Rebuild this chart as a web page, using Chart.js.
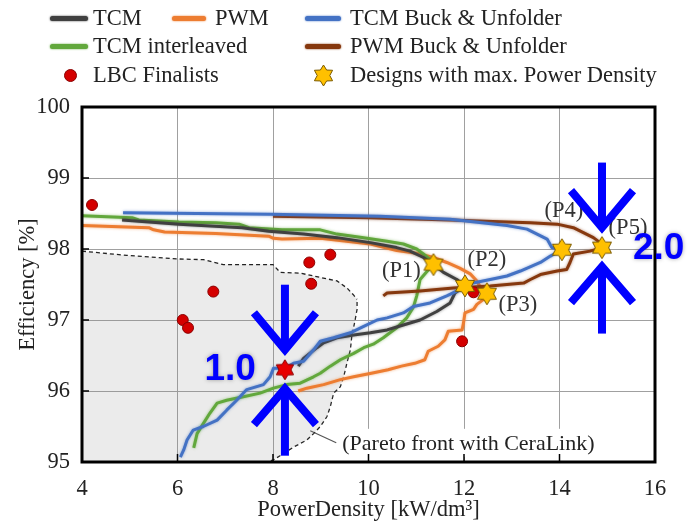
<!DOCTYPE html>
<html>
<head>
<meta charset="utf-8">
<script src="https://cdn.jsdelivr.net/npm/chart.js@4/dist/chart.umd.min.js"></script>
<style>
  html, body { margin: 0; padding: 0; background: #fff; }
  #wrap { position: relative; width: 699px; height: 524px; overflow: hidden; }
  #c { position: absolute; left: 0; top: 0; }
  #legend { position: absolute; left: 0; top: 0; width: 699px; height: 96px;
            font-family: "Liberation Serif", "Times New Roman", serif; font-size: 22.5px; color: #222; }
  .sw { position: absolute; height: 5px; border-radius: 3px; }
  .tx { position: absolute; line-height: 26px; white-space: nowrap; }
  .dot { position: absolute; width: 13px; height: 13px; border-radius: 50%; background: #d40000; border: 1px solid #8a0000; box-sizing: border-box; }
  .ic { position: absolute; }
</style>
</head>
<body>
<div id="wrap">
  <canvas id="c" width="699" height="524"></canvas>
  <div id="legend"></div>
</div>
<script>
// Axis ticks
const xTickValues = [4, 6, 8, 10, 12, 14, 16];
const yTickValues = [95, 96, 97, 98, 99, 100];

// Pareto fronts: [power density kW/dm³, efficiency %]
const tcm = [
  [4.84, 98.41], [6.03, 98.35], [7.35, 98.30], [7.91, 98.25], [8.64, 98.21], [9.34, 98.16],
  [10.04, 98.09], [10.59, 98.02], [10.87, 97.97], [11.15, 97.88], [11.36, 97.78], [11.57, 97.67],
  [11.85, 97.57], [12.02, 97.48], [11.81, 97.38], [11.71, 97.24], [11.43, 97.12], [11.08, 97.00],
  [10.73, 96.93], [10.39, 96.86], [10.04, 96.82], [9.69, 96.79], [9.34, 96.75], [9.06, 96.68],
  [8.92, 96.61], [8.64, 96.46], [8.53, 96.35]
];
const pwm = [
  [4.00, 98.33], [5.40, 98.30], [5.50, 98.27], [5.73, 98.24], [6.80, 98.22], [7.91, 98.18],
  [8.01, 98.15], [8.19, 98.14], [8.99, 98.15], [10.04, 98.07], [10.59, 97.98], [11.01, 97.94],
  [11.36, 97.88], [11.64, 97.81], [11.91, 97.73], [12.13, 97.65], [12.27, 97.55], [12.37, 97.43],
  [12.48, 97.37], [12.41, 97.29], [12.27, 97.22], [12.20, 97.15], [12.02, 97.10], [11.99, 96.96],
  [11.96, 96.86], [11.67, 96.84], [11.60, 96.72], [11.46, 96.63], [11.25, 96.56], [11.18, 96.44],
  [10.97, 96.39], [10.69, 96.35], [10.41, 96.30], [10.06, 96.25], [9.69, 96.20], [9.41, 96.16],
  [9.06, 96.09], [8.71, 96.04], [8.53, 96.00]
];
const tcmBuckUnfolder = [
  [4.86, 98.51], [7.94, 98.49], [10.24, 98.46], [11.71, 98.42], [12.90, 98.33], [13.32, 98.28],
  [13.53, 98.21], [13.74, 98.14], [13.84, 98.02], [14.05, 97.99], [13.81, 97.90], [13.60, 97.81],
  [13.18, 97.69], [12.90, 97.62], [12.55, 97.57], [12.19, 97.52], [12.02, 97.48], [11.92, 97.43],
  [11.64, 97.34], [11.29, 97.24], [10.94, 97.19], [10.73, 97.10], [10.39, 97.03], [10.18, 97.00],
  [9.90, 96.91], [9.62, 96.82], [9.27, 96.75], [8.99, 96.70], [8.85, 96.58], [8.64, 96.42],
  [8.43, 96.39], [8.25, 96.32], [8.01, 96.32], [7.94, 96.20], [7.80, 96.09], [7.45, 96.02],
  [7.24, 95.87], [7.03, 95.73], [6.83, 95.59], [6.54, 95.50], [6.33, 95.45], [6.20, 95.31],
  [6.13, 95.17], [6.06, 95.07]
];
const tcmInterleaved = [
  [4.00, 98.47], [5.05, 98.44], [5.19, 98.41], [6.03, 98.38], [6.80, 98.37], [7.29, 98.35],
  [7.50, 98.30], [8.19, 98.27], [8.99, 98.27], [9.34, 98.21], [9.90, 98.16], [10.39, 98.11],
  [10.73, 98.07], [11.01, 98.00], [11.15, 97.93], [11.29, 97.85], [11.36, 97.78], [11.26, 97.71],
  [11.08, 97.57], [11.01, 97.34], [10.94, 97.18], [10.80, 97.03], [10.59, 96.89], [10.31, 96.75],
  [10.10, 96.66], [9.90, 96.61], [9.69, 96.53], [9.41, 96.44], [9.20, 96.35], [8.99, 96.25],
  [8.85, 96.20], [8.57, 96.11], [8.29, 96.09], [8.01, 96.04], [7.73, 95.97], [7.38, 95.92],
  [7.03, 95.87], [6.83, 95.83], [6.68, 95.69], [6.54, 95.54], [6.41, 95.40], [6.34, 95.20]
];
const pwmBuckUnfolder = [
  [8.00, 98.46], [10.03, 98.44], [11.71, 98.41], [12.90, 98.38], [13.39, 98.37], [13.95, 98.35],
  [14.29, 98.30], [14.50, 98.23], [14.71, 98.16], [14.85, 98.09], [14.89, 98.02], [14.64, 97.97],
  [14.29, 97.93], [14.22, 97.81], [14.15, 97.71], [13.95, 97.69], [13.60, 97.64], [13.39, 97.57],
  [13.25, 97.52], [12.90, 97.50], [12.55, 97.48], [11.78, 97.45], [11.08, 97.41], [10.39, 97.38],
  [10.31, 97.34]
];

// Shaded design space with CeraLink capacitors (upper and lower edge)
const ceraLinkUpper = [
  [4.00, 97.97], [4.94, 97.91], [5.99, 97.86], [6.54, 97.85], [6.96, 97.78], [8.00, 97.78],
  [8.15, 97.67], [8.57, 97.66], [9.34, 97.55], [9.55, 97.45], [9.69, 97.35], [9.76, 97.29]
];
const ceraLinkLower = [
  [4.00, 95.00], [7.87, 95.00], [8.01, 95.03], [8.22, 95.12], [8.43, 95.21], [8.57, 95.26],
  [8.71, 95.31], [8.85, 95.40], [8.99, 95.50], [9.13, 95.64], [9.20, 95.78], [9.27, 95.97],
  [9.41, 96.06], [9.48, 96.20], [9.55, 96.40], [9.62, 96.58], [9.65, 96.77], [9.72, 97.00],
  [9.76, 97.15], [9.76, 97.29]
];

const lbcFinalists = [
  [4.21, 98.62], [6.11, 97.00], [6.22, 96.89], [6.75, 97.40], [8.76, 97.81],
  [8.80, 97.51], [9.20, 97.92], [11.96, 96.70], [12.20, 97.39]
];
const maxDensityDesigns = [[11.36, 97.78], [12.02, 97.48], [12.48, 97.37], [14.05, 97.99], [14.89, 98.02]];
const designLabels = ['(P1)', '(P2)', '(P3)', '(P4)', '(P5)'];
const referenceDesign = [[8.25, 96.30]];
const relativeDensity = ['1.0', '2.0'];

const toXY = arr => arr.map(([x, y]) => ({ x, y }));

function starPath(ctx, cx, cy, R, r) {
  ctx.beginPath();
  for (let i = 0; i < 12; i++) {
    const a = -Math.PI / 2 + i * Math.PI / 6;
    const rad = i % 2 === 0 ? R : r;
    const px = cx + rad * Math.cos(a), py = cy + rad * Math.sin(a);
    i === 0 ? ctx.moveTo(px, py) : ctx.lineTo(px, py);
  }
  ctx.closePath();
}
function starCanvas(R, fill, stroke) {
  const s = Math.ceil(R * 2 + 4);
  const cv = document.createElement('canvas');
  cv.width = s; cv.height = s;
  const g = cv.getContext('2d');
  starPath(g, s / 2, s / 2, R, R * 0.6);
  g.fillStyle = fill; g.fill();
  g.lineWidth = 1; g.strokeStyle = stroke; g.stroke();
  return cv;
}
const goldStar = starCanvas(11, '#ffc000', '#7a5a00');
const redStar = starCanvas(10, '#e80000', '#8a0000');

const serif = '"Liberation Serif", "Times New Roman", serif';
const COL = {
  tcm: '#404040', pwm: '#ed7d31', tcmBuck: '#4472c4', tcmInt: '#62a83c', pwmBuck: '#86380e'
};

function lineSet(label, pts, color, order) {
  return {
    label, data: toXY(pts), showLine: true, borderColor: color, borderWidth: 3,
    pointRadius: 0, fill: false, order, halo: color + '99', borderJoinStyle: 'round'
  };
}

const datasets = [
  { label: 'Designs with max. Power Density', data: toXY(maxDensityDesigns), pointStyle: goldStar, pointRadius: 11, order: 0 },
  { label: 'Reference design', data: toXY(referenceDesign), pointStyle: redStar, pointRadius: 10, order: 0 },
  { label: 'LBC Finalists', data: toXY(lbcFinalists), pointRadius: 5.5, pointBackgroundColor: '#d40000', pointBorderColor: '#8a0000', pointBorderWidth: 1, order: 1 },
  lineSet('TCM Buck & Unfolder', tcmBuckUnfolder, COL.tcmBuck, 2),
  lineSet('PWM Buck & Unfolder', pwmBuckUnfolder, COL.pwmBuck, 3),
  lineSet('TCM', tcm, COL.tcm, 4),
  lineSet('TCM interleaved', tcmInterleaved, COL.tcmInt, 5),
  lineSet('PWM', pwm, COL.pwm, 6),
  { label: 'CeraLink upper', data: toXY(ceraLinkUpper), showLine: true, pointRadius: 0,
    borderColor: '#222', borderWidth: 1.3, borderDash: [4, 3],
    backgroundColor: 'rgba(128,128,128,0.16)', fill: { target: 9 }, order: 20 },
  { label: 'CeraLink lower', data: toXY(ceraLinkLower), showLine: true, pointRadius: 0,
    borderColor: '#222', borderWidth: 1.3, borderDash: [4, 3], fill: false, order: 21 }
];

// soft halo around the front curves
const haloPlugin = {
  id: 'halo',
  beforeDatasetDraw(chart, args) {
    const ds = chart.data.datasets[args.index];
    chart.ctx.save();
    if (ds.halo) { chart.ctx.shadowColor = ds.halo; chart.ctx.shadowBlur = 3; }
  },
  afterDatasetDraw(chart) { chart.ctx.restore(); }
};

function arrowPair(ctx, cx, cy) {
  ctx.strokeStyle = '#0000ff';
  ctx.lineWidth = 8;
  ctx.lineCap = 'butt';
  ctx.lineJoin = 'miter';
  // pointing down from above
  ctx.beginPath(); ctx.moveTo(cx, cy - 85); ctx.lineTo(cx, cy - 20); ctx.stroke();
  ctx.beginPath(); ctx.moveTo(cx - 31, cy - 57); ctx.lineTo(cx, cy - 20); ctx.lineTo(cx + 31, cy - 57); ctx.stroke();
  // pointing up from below
  ctx.beginPath(); ctx.moveTo(cx, cy + 86); ctx.lineTo(cx, cy + 19); ctx.stroke();
  ctx.beginPath(); ctx.moveTo(cx - 31, cy + 55); ctx.lineTo(cx, cy + 19); ctx.lineTo(cx + 31, cy + 55); ctx.stroke();
}

const annotations = {
  id: 'annotations',
  beforeDatasetsDraw(chart) {
    const { ctx, scales: { x, y } } = chart;
    ctx.save();
    // label for the shaded CeraLink region
    const lx = x.getPixelForValue(9.45), ly = y.getPixelForValue(95.27);
    ctx.font = '22px ' + serif;
    const txt = '(Pareto front with CeraLink)';
    const w = ctx.measureText(txt).width;
    ctx.fillStyle = '#fff';
    ctx.fillRect(lx - 3, ly - 14, w + 6, 28);
    ctx.fillStyle = '#222';
    ctx.textBaseline = 'middle';
    ctx.fillText(txt, lx, ly + 1);
    ctx.strokeStyle = '#555'; ctx.lineWidth = 1.2;
    ctx.beginPath();
    ctx.moveTo(x.getPixelForValue(8.78), y.getPixelForValue(95.44));
    ctx.lineTo(lx - 6, ly);
    ctx.stroke();
    ctx.restore();
  },
  afterDatasetsDraw(chart) {
    const { ctx, chartArea: a, scales: { x, y } } = chart;
    ctx.save();
    // frame and inner ticks
    ctx.strokeStyle = '#000';
    ctx.lineWidth = 1.5;
    ctx.beginPath();
    xTickValues.slice(1, -1).forEach(v => {
      const px = x.getPixelForValue(v);
      ctx.moveTo(px, a.bottom); ctx.lineTo(px, a.bottom - 8);
    });
    yTickValues.slice(1, -1).forEach(v => {
      const py = y.getPixelForValue(v);
      ctx.moveTo(a.left, py); ctx.lineTo(a.left + 7, py);
    });
    ctx.stroke();
    ctx.lineWidth = 3;
    ctx.strokeRect(a.left, a.top, a.right - a.left, a.bottom - a.top);

    // design labels
    ctx.font = '22.5px ' + serif;
    ctx.fillStyle = '#333';
    ctx.textAlign = 'center';
    ctx.textBaseline = 'middle';
    const offs = [[-32, 6], [22, -26], [31, 11], [2, -39], [26, -19]];
    maxDensityDesigns.forEach(([vx, vy], i) => {
      ctx.fillText(designLabels[i], x.getPixelForValue(vx) + offs[i][0], y.getPixelForValue(vy) + offs[i][1]);
    });

    // relative power density markers
    const anchors = [referenceDesign[0], maxDensityDesigns[4]];
    anchors.forEach(([vx, vy], i) => {
      const cx = x.getPixelForValue(vx), cy = y.getPixelForValue(vy);
      arrowPair(ctx, cx, cy);
      ctx.save();
      ctx.font = 'bold 37px "Liberation Sans", Arial, sans-serif';
      ctx.fillStyle = '#0000ff';
      ctx.shadowColor = 'rgba(0,0,0,0.35)';
      ctx.shadowBlur = 4;
      ctx.textBaseline = 'middle';
      if (i === 0) { ctx.textAlign = 'right'; ctx.fillText(relativeDensity[i], cx - 29, cy); }
      else { ctx.textAlign = 'left'; ctx.fillText(relativeDensity[i], cx + 31, cy + 1); }
      ctx.restore();
    });
    ctx.restore();
  }
};

const tickFont = { family: serif, size: 22.5 };

new Chart(document.getElementById('c'), {
  type: 'scatter',
  data: { datasets },
  options: {
    responsive: false,
    animation: false,
    devicePixelRatio: 1,
    layout: { padding: { top: 107, right: 44, bottom: 0, left: 0 } },
    plugins: { legend: { display: false }, tooltip: { enabled: false } },
    scales: {
      x: {
        type: 'linear', min: 4, max: 16,
        afterBuildTicks: s => { s.ticks = xTickValues.map(v => ({ value: v })); },
        afterFit: s => { s.height = 62; },
        grid: { color: '#a0a0a0', lineWidth: 1, drawTicks: false },
        border: { display: false },
        ticks: { font: tickFont, color: '#222', padding: 14, maxRotation: 0 },
        title: { display: true, text: 'PowerDensity [kW/dm³]', font: tickFont, color: '#222', padding: { top: 0, bottom: 0 } }
      },
      y: {
        type: 'linear', min: 95, max: 100,
        afterBuildTicks: s => { s.ticks = yTickValues.map(v => ({ value: v })); },
        afterFit: s => { s.width = 82; },
        grid: { color: '#a0a0a0', lineWidth: 1, drawTicks: false },
        border: { display: false },
        ticks: { font: tickFont, color: '#222', padding: 12 },
        title: { display: true, text: 'Efficiency [%]', font: tickFont, color: '#222', padding: { top: 15, bottom: 0 } }
      }
    }
  },
  plugins: [haloPlugin, annotations]
});

// Legend
const legendItems = [
  { text: 'TCM', kind: 'line', color: COL.tcm, sx: 50, sw: 38, tx: 93, cy: 18 },
  { text: 'PWM', kind: 'line', color: COL.pwm, sx: 172, sw: 34, tx: 215, cy: 18 },
  { text: 'TCM Buck & Unfolder', kind: 'line', color: COL.tcmBuck, sx: 305, sw: 36, tx: 350, cy: 18 },
  { text: 'TCM interleaved', kind: 'line', color: COL.tcmInt, sx: 50, sw: 38, tx: 93, cy: 46 },
  { text: 'PWM Buck & Unfolder', kind: 'line', color: COL.pwmBuck, sx: 305, sw: 36, tx: 350, cy: 46 },
  { text: 'LBC Finalists', kind: 'dot', sx: 64, tx: 93, cy: 75 },
  { text: 'Designs with max. Power Density', kind: 'star', sx: 311, tx: 350, cy: 75 }
];
const leg = document.getElementById('legend');
legendItems.forEach(it => {
  if (it.kind === 'line') {
    const d = document.createElement('div');
    d.className = 'sw';
    d.style.left = it.sx + 'px'; d.style.top = (it.cy - 2.5) + 'px';
    d.style.width = it.sw + 'px'; d.style.background = it.color;
    d.style.boxShadow = '0 0 2px ' + it.color;
    leg.appendChild(d);
  } else if (it.kind === 'dot') {
    const d = document.createElement('div');
    d.className = 'dot';
    d.style.left = it.sx + 'px'; d.style.top = (it.cy - 6.5) + 'px';
    leg.appendChild(d);
  } else {
    const cv = starCanvas(10.5, '#ffc000', '#7a5a00');
    cv.className = 'ic';
    cv.style.left = it.sx + 'px'; cv.style.top = (it.cy - cv.height / 2) + 'px';
    leg.appendChild(cv);
  }
  const t = document.createElement('span');
  t.className = 'tx';
  t.textContent = it.text;
  t.style.left = it.tx + 'px'; t.style.top = (it.cy - 13) + 'px';
  leg.appendChild(t);
});
</script>
</body>
</html>
